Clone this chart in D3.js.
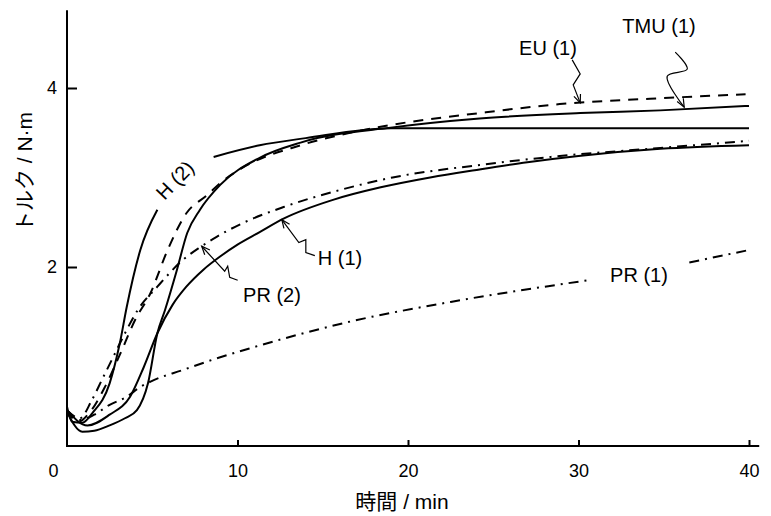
<!DOCTYPE html>
<html>
<head>
<meta charset="utf-8">
<script src="https://cdn.jsdelivr.net/npm/d3@7"></script>
<style>
  body { margin: 0; background: #fff; }
  svg { display: block; }
  text { font-family: "Liberation Sans", "Noto Sans CJK JP", sans-serif; fill: #000; }
</style>
</head>
<body>
<svg id="chart" width="771" height="516"></svg>
<script>
// tick values
var xTicks = [0, 10, 20, 30, 40];
var yTicks = [2, 4];

// torque curves, [time min, torque N·m]; null = break in the line
var h2Values = [[0, 0.44], [0.3, 0.27], [0.9, 0.26], [1.5, 0.37], [2.5, 0.70], [3.1, 1.15], [3.5, 1.55],
  [4.3, 2.19], [5.3, 2.64], [6.9, null], [8.6, 3.23], [11.3, 3.36], [14, 3.44], [19, 3.55], [25, 3.55],
  [32, 3.55], [40, 3.55]];
var eu1Values = [[0, 0.40], [0.65, 0.27], [1.35, 0.38], [2.2, 0.65], [3.1, 1.02], [4.0, 1.41], [4.9, 1.71],
  [5.9, 2.19], [7.0, 2.60], [8.2, 2.80], [9.2, 2.97], [10.3, 3.11], [13.7, 3.36], [16.6, 3.50], [19.1, 3.59],
  [24.2, 3.72], [28.9, 3.82], [34.2, 3.88], [39.8, 3.93]];
var tmu1Values = [[0, 0.38], [0.9, 0.16], [1.6, 0.17], [2.5, 0.23], [3.4, 0.31], [4.1, 0.40], [4.75, 0.70],
  [5.3, 1.26], [5.75, 1.52], [6.45, 1.97], [7.05, 2.38], [7.8, 2.64], [9.0, 2.92], [11.3, 3.22], [13.7, 3.39],
  [19.1, 3.56], [24.2, 3.66], [30.1, 3.72], [34.8, 3.75], [40, 3.80]];
var h1Values = [[0, 0.40], [1.2, 0.23], [2.5, 0.35], [3.7, 0.55], [4.5, 0.88], [5.3, 1.26], [6.2, 1.58],
  [7.0, 1.78], [8.0, 1.97], [9.0, 2.12], [10.0, 2.25], [11.3, 2.39], [12.7, 2.54], [15.6, 2.75],
  [18.4, 2.89], [21.3, 3.0], [24.2, 3.09], [27, 3.17], [30, 3.24], [34.8, 3.32], [40, 3.36]];
var pr2Values = [[0, 0.40], [0.75, 0.31], [1.45, 0.51], [2.05, 0.74], [2.7, 0.99], [3.4, 1.26], [4.15, 1.52],
  [5.3, 1.78], [6.8, 2.08], [7.8, 2.22], [8.8, 2.34], [10.3, 2.49], [12.7, 2.67], [16, 2.86], [19.1, 3.0],
  [24.2, 3.14], [28.9, 3.24], [34.8, 3.33], [40, 3.41]];
var pr1Values = [[0, 0.40], [0.75, 0.29], [1.6, 0.35], [2.5, 0.46], [3.5, 0.55], [4.3, 0.66], [4.9, 0.72],
  [6.8, 0.85], [8.8, 0.98], [10.7, 1.09], [16.6, 1.39], [22.5, 1.61], [30.5, 1.85], [33, null],
  [36.5, 2.05], [40, 2.19]];

var svg = d3.select('#chart');

var x = d3.scaleLinear().domain([0, 40]).range([67, 749]);
var y = d3.scaleLinear().domain([0, 4]).range([446, 88]);
var xEnd = 40.6;
var yEnd = 4.87;

var DASHED = '10,8';
var DASHDOT = '10,6,2,6';

var series = [
  { name: 'H (2)', values: h2Values, dash: null },
  { name: 'EU (1)', values: eu1Values, dash: DASHED },
  { name: 'TMU (1)', values: tmu1Values, dash: null },
  { name: 'H (1)', values: h1Values, dash: null },
  { name: 'PR (2)', values: pr2Values, dash: DASHDOT },
  { name: 'PR (1)', values: pr1Values, dash: DASHDOT }
];

// Axes
var gx = svg.append('g')
  .attr('transform', 'translate(0,' + y(0) + ')')
  .call(d3.axisBottom(x).tickValues(xTicks).tickFormat(d3.format('d'))
    .tickSizeInner(-6).tickSizeOuter(0).tickPadding(18));
var gy = svg.append('g')
  .attr('transform', 'translate(' + x(0) + ',0)')
  .call(d3.axisLeft(y).tickValues(yTicks).tickFormat(d3.format('d'))
    .tickSizeInner(-10).tickSizeOuter(0).tickPadding(10));

[gx, gy].forEach(function (g) {
  g.select('.domain').remove();
  g.attr('font-family', null).attr('font-size', 18);
  g.selectAll('.tick line').attr('stroke', '#000').attr('stroke-width', 2);
});
gx.selectAll('.tick').filter(function (d) { return d === 0; })
  .call(function (t) {
    t.select('line').remove();
    t.select('text').attr('x', -14);
  });

svg.append('line')
  .attr('x1', x(0)).attr('x2', x(xEnd))
  .attr('y1', y(0)).attr('y2', y(0))
  .attr('stroke', '#000').attr('stroke-width', 2);
svg.append('line')
  .attr('x1', x(0)).attr('x2', x(0))
  .attr('y1', y(0) + 1).attr('y2', y(yEnd))
  .attr('stroke', '#000').attr('stroke-width', 2);

svg.append('text')
  .attr('x', 402).attr('y', 509)
  .attr('text-anchor', 'middle')
  .attr('font-size', 21)
  .text('時間 / min');
svg.append('text')
  .attr('transform', 'translate(32,172) rotate(-90)')
  .attr('text-anchor', 'middle')
  .attr('font-size', 21)
  .text('トルク / N·m');

// Curves
var line = d3.line()
  .defined(function (d) { return d[1] != null; })
  .x(function (d) { return x(d[0]); })
  .y(function (d) { return y(d[1]); })
  .curve(d3.curveMonotoneX);

svg.append('g').selectAll('path')
  .data(series)
  .enter().append('path')
  .attr('d', function (d) { return line(d.values); })
  .attr('fill', 'none')
  .attr('stroke', '#000')
  .attr('stroke-width', 2)
  .attr('stroke-dasharray', function (d) { return d.dash; });

// Labels
var labels = [
  { text: 'EU (1)', x: 548, y: 55, rotate: 0 },
  { text: 'TMU (1)', x: 659, y: 33, rotate: 0 },
  { text: 'H (1)', x: 340, y: 265, rotate: 0 },
  { text: 'PR (2)', x: 272, y: 302, rotate: 0 },
  { text: 'PR (1)', x: 639, y: 282, rotate: 0 },
  { text: 'H (2)', x: 180, y: 185, rotate: -46 }
];
svg.append('g').selectAll('text')
  .data(labels)
  .enter().append('text')
  .attr('transform', function (d) { return 'translate(' + d.x + ',' + d.y + ') rotate(' + d.rotate + ')'; })
  .attr('text-anchor', 'middle')
  .attr('font-size', 20)
  .text(function (d) { return d.text; });

// Leader arrows: tip on a curve, tail given as pixel offsets from the tip
function valueAt(values, t) {
  var pts = values.filter(function (d) { return d[1] != null; });
  var i = d3.bisector(function (d) { return d[0]; }).left(pts, t);
  if (i <= 0) { return pts[0][1]; }
  if (i >= pts.length) { return pts[pts.length - 1][1]; }
  var a = pts[i - 1], b = pts[i];
  return a[1] + (b[1] - a[1]) * (t - a[0]) / (b[0] - a[0]);
}

var leaders = [
  { values: eu1Values, t: 30.1, dy: 0, tail: [[-8, -43], [0, -29], [-7, -18], [0, 0]], curved: false },
  { values: tmu1Values, t: 36.2, dy: -2, tail: [[-9, -55], [3, -38], [-17, -31], [0, 0]], curved: true },
  { values: h1Values, t: 12.6, dy: 0, tail: [[33, 36], [24, 33], [24, 20], [17, 23], [0, 0]], curved: false },
  { values: pr2Values, t: 7.9, dy: 0, tail: [[36, 34], [28, 31], [26, 20], [23, 25], [0, 0]], curved: false }
];

var leaderLine = d3.line();
leaders.forEach(function (l) {
  var tx = x(l.t), ty = y(valueAt(l.values, l.t)) + l.dy;
  var pts = l.tail.map(function (p) { return [tx + p[0], ty + p[1]]; });
  leaderLine.curve(l.curved ? d3.curveCatmullRom : d3.curveLinear);
  svg.append('path')
    .attr('d', leaderLine(pts))
    .attr('fill', 'none')
    .attr('stroke', '#000')
    .attr('stroke-width', 1.2);
  var prev = pts[pts.length - 2];
  var ang = Math.atan2(ty - prev[1], tx - prev[0]);
  var len = 9, spread = 0.4;
  svg.append('path')
    .attr('d', leaderLine.curve(d3.curveLinear)([
      [tx - len * Math.cos(ang - spread), ty - len * Math.sin(ang - spread)],
      [tx, ty],
      [tx - len * Math.cos(ang + spread), ty - len * Math.sin(ang + spread)]
    ]))
    .attr('fill', 'none')
    .attr('stroke', '#000')
    .attr('stroke-width', 1.2);
});
</script>
</body>
</html>
